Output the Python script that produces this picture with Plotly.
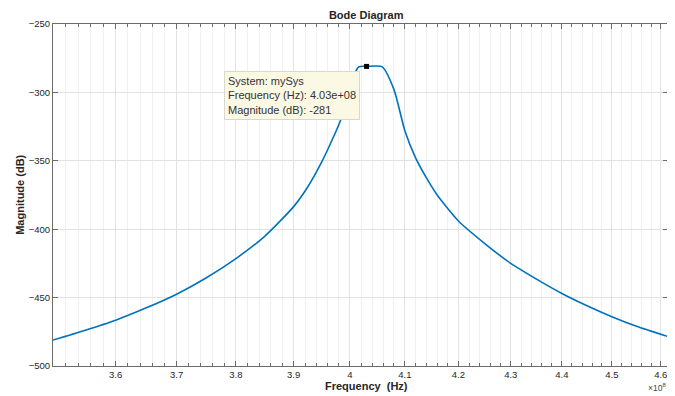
import math
import plotly.graph_objects as go

# Data (frequency in Hz, magnitude in dB)
freq_e8 = [3.50, 3.55, 3.60, 3.65, 3.70, 3.75, 3.80, 3.85, 3.90, 3.925, 3.95, 3.97,
           3.983, 4.00, 4.01, 4.016, 4.03, 4.058, 4.08, 4.10, 4.12, 4.14, 4.16,
           4.20, 4.25, 4.30, 4.35, 4.40, 4.45, 4.50, 4.55, 4.615]
mag_db = [-481, -474, -466.5, -457.5, -447.5, -435.5, -421.5, -405, -383.5, -369, -350.5, -333,
          -320.5, -298.5, -285, -281.2, -281, -281.2, -298, -328, -348, -362.5, -375,
          -394, -410.5, -425, -436.5, -447, -456, -464, -471, -478.5]
freq_hz = [f * 1e8 for f in freq_e8]

tip_freq = 4.03e8
tip_mag = -281
system_name = "mySys"

x_ticks_e8 = [3.6, 3.7, 3.8, 3.9, 4.0, 4.1, 4.2, 4.3, 4.4, 4.5, 4.6]
x_tick_labels = ["3.6", "3.7", "3.8", "3.9", "4", "4.1", "4.2", "4.3", "4.4", "4.5", "4.6"]
x_minor_e8 = [round(3.50 + 0.02 * i, 2) for i in range(56)]
y_ticks = [-500, -450, -400, -350, -300, -250]
x_range_hz = [3.5e8, 4.615e8]
y_range = [-500, -250]

font_family = "Liberation Sans, Arial, Helvetica, sans-serif"
axis_color = "#6b6b6b"

fig = go.Figure()
fig.add_trace(go.Scatter(
    x=freq_hz, y=mag_db, mode="lines", line_shape="spline",
    line=dict(color="#0072BD", width=1.6, smoothing=0.6), hoverinfo="skip", showlegend=False))
fig.add_trace(go.Scatter(
    x=[tip_freq], y=[tip_mag], mode="markers",
    marker=dict(symbol="square", size=5, color="black"), hoverinfo="skip", showlegend=False))

# page has an 8px body margin, so the figure is sized/offset to compensate
fig.update_layout(
    width=667, height=388,
    margin=dict(l=45, r=7, t=16, b=30),
    paper_bgcolor="white", plot_bgcolor="white",
    font=dict(family=font_family, size=10, color="#262626"),
    title=dict(text="<b>Bode Diagram</b>", x=0.537, xanchor="center", y=0.982, yanchor="middle",
               font=dict(size=11, color="#262626")),
    xaxis=dict(
        type="log", range=[math.log10(v) for v in x_range_hz], automargin=False,
        tickmode="array", tickvals=[v * 1e8 for v in x_ticks_e8], ticktext=x_tick_labels,
        ticks="inside", ticklen=5, tickcolor=axis_color,
        showline=True, linecolor=axis_color, linewidth=1, mirror="allticks",
        showgrid=True, gridcolor="#e2e2e2", gridwidth=1,
        minor=dict(tickmode="array", tickvals=[v * 1e8 for v in x_minor_e8],
                   ticks="inside", ticklen=3, tickcolor=axis_color,
                   showgrid=True, gridcolor="#f0f0f0", gridwidth=1),
        tickfont=dict(size=9.5, color="#262626"),
        zeroline=False,
    ),
    yaxis=dict(
        range=y_range, tickmode="array", tickvals=y_ticks, automargin=False,
        ticks="inside", ticklen=5, tickcolor=axis_color,
        showline=True, linecolor=axis_color, linewidth=1, mirror="allticks",
        showgrid=True, gridcolor="#e2e2e2", gridwidth=1,
        tickfont=dict(size=9.5, color="#262626"),
        zeroline=False,
    ),
)

# axis titles
fig.add_annotation(x=0.509, y=-0.058, xref="paper", yref="paper", xanchor="center",
                   yanchor="middle", text="<b>Frequency  (Hz)</b>", showarrow=False,
                   font=dict(size=11, color="#262626"))
fig.add_annotation(x=-0.054, y=0.5, xref="paper", yref="paper", xanchor="center",
                   yanchor="middle", text="<b>Magnitude (dB)</b>", showarrow=False,
                   textangle=-90, font=dict(size=11, color="#262626"))
fig.add_annotation(x=1.0, y=-0.062, xref="paper", yref="paper", xanchor="right",
                   yanchor="middle", text="×10<sup>8</sup>", showarrow=False,
                   font=dict(size=8.5, color="#444444"))

# data tip
fig.add_annotation(
    x=math.log10(tip_freq), y=tip_mag, xref="x", yref="y",
    text=f"System: {system_name}<br>Frequency (Hz): {tip_freq:.2e}"
         + f"<br>Magnitude (dB): {tip_mag}",
    align="left", showarrow=True, arrowcolor="rgba(0,0,0,0)", arrowwidth=0.1,
    ax=-75, ay=29,
    bgcolor="#fbf8e3", bordercolor="#d8d8d0", borderwidth=1, borderpad=3,
    font=dict(size=11, color="#333333", family=font_family),
)

fig.write_html("out.html")
